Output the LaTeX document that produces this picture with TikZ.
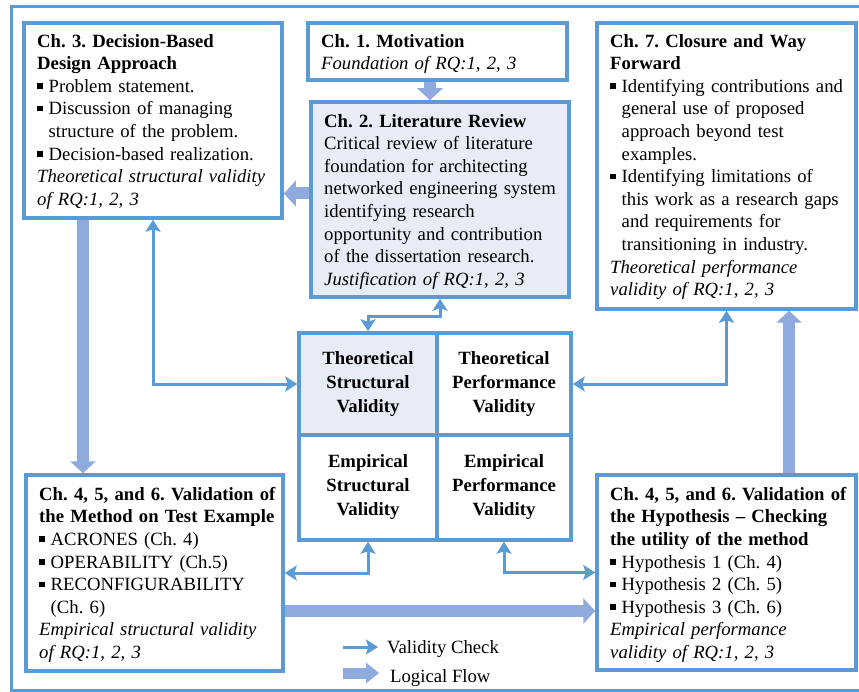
\documentclass[tikz,border=0pt]{standalone}
\usepackage{fontspec}
\setmainfont{Liberation Serif}
\usetikzlibrary{arrows.meta}
\definecolor{edge}{HTML}{5B9BD5}
\definecolor{flow}{HTML}{8FAADC}
\definecolor{shade}{HTML}{E7ECF7}
% square bullet and the matching indent for continuation lines
\newcommand\sqb{\makebox[11.5pt][l]{\rule[3.5pt]{5.5pt}{5.5pt}}}
\newcommand\ind{\hspace*{11.5pt}}
\newcommand\firstline{\rule{0pt}{15pt}}
\frenchspacing
\begin{document}
\begin{tikzpicture}[x=1pt,y=-1pt,
  box/.style={draw=edge, line width=3.5pt, inner sep=0pt},
  txt/.style={anchor=north west, inner sep=0pt, align=left, text width=245pt,
              font=\fontsize{18.7pt}{22.6pt}\selectfont},
  cell/.style={draw=edge, line width=3.5pt, inner sep=0pt, align=center,
               font=\fontsize{18.7pt}{24pt}\selectfont\bfseries},
  tip/.style={Stealth[length=12pt,width=15pt,inset=2.5pt]},
  check/.style={draw=edge, line width=3pt, {Stealth[length=12pt,width=15pt,inset=2.5pt]}-{Stealth[length=12pt,width=15pt,inset=2.5pt]}},
  checkone/.style={draw=edge, line width=3pt, -{Stealth[length=12pt,width=15pt,inset=2.5pt]}},
  flowarrow/.style={draw=flow, line width=12pt, -{Triangle[length=12pt,width=25pt]}},
  flowsmall/.style={draw=flow, line width=11pt, -{Triangle[length=13pt,width=20pt]}},
  legendtxt/.style={anchor=base west, inner sep=0pt, font=\fontsize{18.7pt}{22.6pt}\selectfont},
]
\useasboundingbox (0,0) rectangle (859,692);

% outer frame
\draw[edge, line width=3pt] (859,7) -- (11,7) -- (11,690) -- (859,690);

% chapter boxes
\node[box, minimum width=258pt, minimum height=195pt] (ch3) at (153,120.5) {};
\node[box, minimum width=259pt, minimum height=57pt] (ch1) at (437.5,51.5) {};
\node[box, fill=shade, minimum width=258pt, minimum height=195pt] (ch2) at (440,199.5) {};
\node[box, minimum width=259pt, minimum height=286pt] (ch7) at (726.5,166) {};
\node[box, minimum width=257pt, minimum height=196pt] (v1) at (154.5,573) {};
\node[box, minimum width=259pt, minimum height=195pt] (v2) at (726.5,572.5) {};

% validity grid
\node[cell, fill=shade, minimum width=138pt, minimum height=102pt] (ts) at (368,384) {Theoretical\\Structural\\Validity};
\node[cell, minimum width=134pt, minimum height=102pt] (tp) at (504,384) {Theoretical\\Performance\\Validity};
\node[cell, minimum width=138pt, minimum height=105pt] (es) at (368,487.5) {Empirical\\Structural\\Validity};
\node[cell, minimum width=134pt, minimum height=105pt] (ep) at (504,487.5) {Empirical\\Performance\\Validity};

% box texts
\node[txt] (ch1txt) at (321,32) {\firstline{\bfseries Ch. 1. Motivation}\\
{\itshape Foundation of RQ:1, 2, 3}};

\node[txt] (ch2txt) at (324,112) {\firstline{\bfseries Ch. 2. Literature Review}\\
Critical review of literature\\
foundation for architecting\\
networked engineering system\\
identifying research\\
opportunity and contribution\\
of the dissertation research.\\
{\itshape Justification of RQ:1, 2, 3}};

\node[txt] (ch3txt) at (37,32) {\firstline{\bfseries Ch. 3. Decision-Based\\Design Approach}\\
\sqb Problem statement.\\
\sqb Discussion of managing\\
\ind structure of the problem.\\
\sqb Decision-based realization.\\
{\itshape Theoretical structural validity\\of RQ:1, 2, 3}};

\node[txt] (ch7txt) at (610,32) {\firstline{\bfseries Ch. 7. Closure and Way\\Forward}\\
\sqb Identifying contributions and\\
\ind general use of proposed\\
\ind approach beyond test\\
\ind examples.\\
\sqb Identifying limitations of\\
\ind this work as a research gaps\\
\ind and requirements for\\
\ind transitioning in industry.\\
{\itshape Theoretical performance\\validity of RQ:1, 2, 3}};

\node[txt] (v1txt) at (39,485) {\firstline{\bfseries Ch. 4, 5, and 6. Validation of\\the Method on Test Example}\\
\sqb ACRONES (Ch. 4)\\
\sqb OPERABILITY (Ch.5)\\
\sqb RECONFIGURABILITY\\
\ind (Ch. 6)\\
{\itshape Empirical structural validity\\of RQ:1, 2, 3}};

\node[txt] (v2txt) at (610,485) {\firstline{\bfseries Ch. 4, 5, and 6. Validation of\\the Hypothesis – Checking\\the utility of the method}\\
\sqb Hypothesis 1 (Ch. 4)\\
\sqb Hypothesis 2 (Ch. 5)\\
\sqb Hypothesis 3 (Ch. 6)\\
{\itshape Empirical performance\\validity of RQ:1, 2, 3}};

% logical flow
\draw[flowarrow] ([xshift=-7.5pt]ch1.south) -- ([xshift=-7.5pt]ch1.south |- ch2.north);
\draw[flowarrow] ([yshift=6pt]ch2.west) -- ([yshift=6pt]ch2.west -| ch3.east);
\draw[flowarrow] ([xshift=-70pt]ch3.south) -- ([xshift=-70pt]ch3.south |- v1.north);
\draw[flowarrow] ([yshift=-38pt]v1.east) -- ([yshift=-38pt]v1.east -| v2.west);
\draw[flowarrow] ([xshift=62.5pt]v2.north) -- ([xshift=62.5pt]v2.north |- ch7.south);

% validity checks
\draw[check] (ch3.south) |- (ts.west);
\draw[check] (ch2.south) -- ([yshift=-18pt]ch2.south) -| (ts.north);
\draw[check] (ch7.south) |- (tp.east);
\draw[check] (es.south) |- (v1.east);
\draw[check] (ep.south) |- (v2.west);

% legend
\coordinate (lc1) at (343,647);
\coordinate (lc2) at (378,647);
\coordinate (lf1) at (343,673);
\coordinate (lf2) at (379,673);
\draw[checkone] (lc1) -- (lc2);
\draw[flowsmall] (lf1) -- (lf2);
\node[legendtxt] (lgc) at (387,653) {Validity Check};
\node[legendtxt] (lgf) at (390,682) {Logical Flow};
\end{tikzpicture}
\end{document}
